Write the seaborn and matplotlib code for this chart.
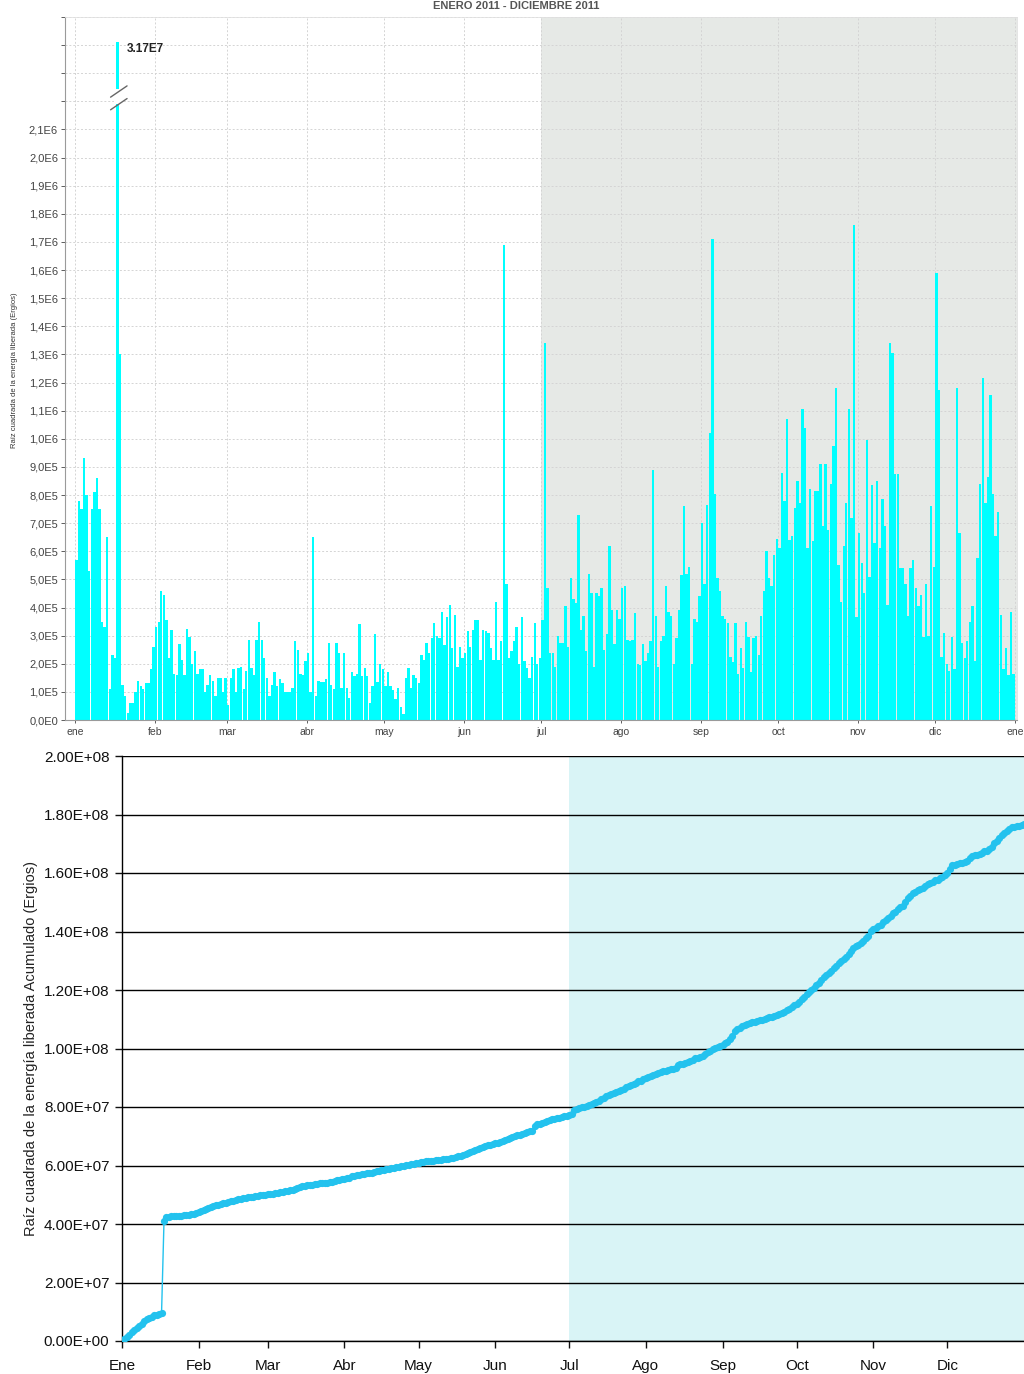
import numpy as np
import matplotlib
matplotlib.use("Agg")
import matplotlib.pyplot as plt
from matplotlib.ticker import FixedLocator, FuncFormatter
import seaborn as sns

# ==========================================
# DATA (daily values in units of 1E5 ergios^0.5)
# ==========================================
jan = [5.7, 7.8, 7.5, 9.3, 8.0, 5.3, 7.5, 8.1, 8.6, 7.5, 3.5, 3.3, 6.5, 1.1, 2.3, 2.2,
       317.0, 13.0, 1.25, 0.85, 0.25, 0.6, 0.6, 1.0, 1.4, 1.2, 1.1, 1.3, 1.3, 1.8, 2.6]
feb = [3.3, 3.5, 4.6, 4.45, 3.55, 2.2, 3.2, 1.65, 1.6, 2.7, 2.15, 1.6, 3.25, 2.95,
       2.0, 2.45, 1.65, 1.8, 1.8, 1.0, 1.25, 1.6, 1.4, 0.85, 1.5, 1.5, 1.0, 1.5]
mar = [0.55, 1.5, 1.8, 1.0, 1.85, 1.9, 1.1, 1.75, 2.85, 1.85, 1.6, 2.85, 3.5, 2.85,
       2.2, 1.5, 0.85, 1.25, 1.7, 1.2, 1.45, 1.3, 1.0, 1.0, 1.0, 1.15, 2.8, 2.5, 1.65, 1.6, 2.1]
apr = [2.4, 1.0, 6.5, 0.85, 1.4, 1.35, 1.35, 1.45, 2.75, 1.25, 1.1, 2.75, 2.4, 1.15,
       2.4, 1.15, 0.8, 1.7, 1.55, 1.65, 3.4, 1.55, 1.85, 1.55, 0.6, 1.2, 3.05, 1.35, 2.0, 1.8]
may = [1.2, 1.7, 1.2, 1.05, 0.75, 1.15, 0.45, 0.2, 1.5, 1.85, 1.15, 1.6, 1.5, 1.3,
       2.3, 2.15, 2.75, 2.4, 2.9, 3.45, 3.0, 2.9, 3.85, 2.65, 3.65, 4.1, 2.55, 3.75, 1.9, 2.6, 2.2]
jun = [2.4, 3.15, 2.6, 3.2, 3.55, 3.55, 2.15, 3.2, 3.15, 3.1, 2.55, 2.15, 4.2, 2.15,
       2.8, 16.9, 4.85, 2.2, 2.45, 2.8, 3.3, 2.0, 3.65, 2.1, 1.85, 1.5, 2.25, 3.45, 2.0, 2.2]
jul = [3.55, 13.4, 4.7, 2.4, 2.4, 1.9, 3.0, 2.75, 2.75, 4.05, 2.6, 5.05, 4.3, 4.15,
       7.3, 3.2, 3.7, 2.45, 5.2, 4.5, 1.9, 4.5, 4.4, 4.7, 2.5, 3.05, 6.2, 3.9, 2.7, 3.9, 3.6]
aug = [4.7, 4.75, 2.85, 2.8, 2.85, 3.8, 2.0, 1.95, 2.7, 2.1, 2.4, 2.8, 8.9, 3.7,
       1.9, 2.8, 3.0, 4.75, 3.85, 3.7, 2.0, 2.9, 3.9, 5.15, 7.6, 5.2, 5.45, 2.0, 3.6, 3.5, 4.4]
sep = [7.0, 4.85, 7.65, 10.2, 17.1, 8.05, 5.05, 4.6, 3.7, 3.6, 3.45, 2.25, 2.05, 3.45,
       1.65, 2.55, 1.85, 3.5, 2.95, 1.7, 2.9, 3.0, 2.3, 3.7, 4.6, 6.0, 5.05, 4.75, 5.85, 6.45]
oct_ = [6.1, 8.8, 7.8, 10.7, 6.4, 6.55, 7.55, 8.5, 7.7, 11.05, 10.4, 6.1, 8.2, 6.35,
        8.15, 8.15, 9.1, 6.9, 9.1, 6.75, 8.4, 9.75, 11.8, 5.5, 4.2, 6.2, 7.7, 11.05, 7.2, 17.6, 3.65]
nov = [6.65, 5.6, 4.5, 9.95, 5.1, 8.35, 6.3, 8.5, 6.1, 7.85, 6.9, 4.1, 13.4, 13.05,
       8.75, 8.75, 5.4, 5.4, 4.85, 3.7, 5.4, 5.7, 4.7, 4.05, 4.45, 2.95, 4.85, 3.0, 7.6, 5.45]
dec = [15.9, 11.75, 2.25, 3.1, 2.0, 1.75, 2.95, 1.8, 11.8, 6.65, 2.75, 2.2, 2.8, 3.5,
       4.05, 2.1, 5.75, 8.4, 12.15, 7.7, 8.65, 11.55, 8.05, 6.55, 7.4, 3.75, 1.8, 2.55, 1.6, 3.85, 1.65]

month_starts = [0, 31, 59, 90, 120, 151, 181, 212, 243, 273, 304, 334, 365]
top_month_labels = ["ene", "feb", "mar", "abr", "may", "jun", "jul",
                    "ago", "sep", "oct", "nov", "dic", "ene"]
bottom_month_labels = ["Ene", "Feb", "Mar", "Abr", "May", "Jun",
                       "Jul", "Ago", "Sep", "Oct", "Nov", "Dic"]
peak_label = "3.17E7"

daily = np.array(jan + feb + mar + apr + may + jun + jul + aug + sep + oct_ + nov + dec) * 1e5
assert len(daily) == 365
days = np.arange(365)

# cumulative curve (sum of the daily values)
cumulative = np.concatenate([[0.0], np.cumsum(daily)])
cum_days = np.arange(366)

# ==========================================
# FIGURE
# ==========================================
sns.set_style("white")
plt.rcParams["font.family"] = ["Liberation Sans", "DejaVu Sans"]

W, H = 1024, 1374
fig = plt.figure(figsize=(W / 100, H / 100), dpi=100)

# ---------- top panel: daily bars ----------
ax1 = fig.add_axes([65 / W, 1 - 720 / H, (1017 - 65) / W, (720 - 17) / H])
ax1.axvspan(181, 366, color="#e6e9e6", zorder=0, lw=0)

cap = 2.41e6
sns.barplot(x=days + 0.5, y=np.minimum(daily, cap), native_scale=True,
            color="#00ffff", saturation=1, width=0.92, errorbar=None,
            linewidth=0, ax=ax1, zorder=2)

ax1.set_xlim(-3.9, 365.8)
ax1.set_ylim(0, 2.5e6)
ax1.set_xlabel("")
ax1.set_ylabel("")

yt = np.arange(0, 2.51e6, 1e5)


def top_fmt(v, pos):
    if v > 2.15e6:
        return ""
    if v == 0:
        return "0,0E0"
    e = int(np.floor(np.log10(v) + 1e-9))
    m = v / 10 ** e
    return f"{m:.1f}".replace(".", ",") + f"E{e}"


ax1.yaxis.set_major_locator(FixedLocator(yt))
ax1.yaxis.set_major_formatter(FuncFormatter(top_fmt))
ax1.xaxis.set_major_locator(FixedLocator(month_starts))
ax1.set_xticklabels(top_month_labels)
ax1.tick_params(axis="y", labelsize=8, colors="#444444", length=3, width=0.6, pad=2, left=True)
ax1.tick_params(axis="x", labelsize=7.5, colors="#444444", length=2, width=0.6, pad=3, bottom=True)
ax1.grid(True, linestyle=(0, (2, 2)), color="#d4d4d4", linewidth=0.7)
ax1.set_axisbelow(True)
for s in ["left", "bottom"]:
    ax1.spines[s].set_color("#9a9a9a")
    ax1.spines[s].set_linewidth(0.8)
for s in ["top", "right"]:
    ax1.spines[s].set_color("#e0e0e0")
    ax1.spines[s].set_linewidth(0.6)

# axis break on the big January bar
ax1.fill_between([15.0, 18.9], 2.19e6, 2.245e6, color="white", zorder=3, lw=0)
for yb in (2.19e6, 2.235e6):
    ax1.plot([13.8, 20.2], [yb - 0.02e6, yb + 0.02e6], color="#666666", lw=1.0, zorder=4)
ax1.text(20.0, 2.385e6, peak_label, fontsize=8.5, fontweight="bold",
         color="#222222", va="center", ha="left")

fig.text(15 / W, 1 - 370 / H, "Raíz cuadrada de la energía liberada (Ergios)",
         rotation=90, fontsize=5.5, color="#333333", ha="center", va="center")
fig.text(516 / W, 1 - 1 / H, "ENERO 2011 - DICIEMBRE 2011", fontsize=8,
         fontweight="bold", color="#555555", ha="center", va="top")

# ---------- bottom panel: cumulative ----------
ax2 = fig.add_axes([122 / W, 1 - 1341 / H, (1024 - 122) / W, (1341 - 756) / H])
ax2.axvspan(181, 366, color="#d9f4f6", zorder=0, lw=0)
sns.lineplot(x=cum_days, y=cumulative, color="#23c2ee", linewidth=1.0,
             marker="o", markersize=5.2, markeredgewidth=0, ax=ax2, zorder=3)

ax2.set_xlim(0, 365)
ax2.set_ylim(0, 2e8)
ax2.set_xlabel("")
ax2.set_ylabel("Raíz cuadrada de la energía liberada Acumulado (Ergios)",
               fontsize=10.5, color="#222222", labelpad=4)
ax2.yaxis.set_major_locator(FixedLocator(np.arange(0, 2.01e8, 2e7)))
ax2.yaxis.set_major_formatter(FuncFormatter(lambda v, p: f"{v:.2E}"))
ax2.xaxis.set_major_locator(FixedLocator(month_starts[:-1]))
ax2.set_xticklabels(bottom_month_labels)
ax2.tick_params(axis="y", labelsize=11, colors="#111111", length=5, width=1,
                direction="out", left=True, pad=4)
ax2.tick_params(axis="x", labelsize=11, colors="#111111", length=5, width=1,
                direction="out", bottom=True, pad=8)
ax2.grid(True, axis="y", color="black", linewidth=1.0)
ax2.set_axisbelow(True)
ax2.spines["top"].set_visible(False)
ax2.spines["right"].set_visible(False)
for s in ["left", "bottom"]:
    ax2.spines[s].set_color("black")
    ax2.spines[s].set_linewidth(1.0)

fig.savefig("out.png", dpi=100)
